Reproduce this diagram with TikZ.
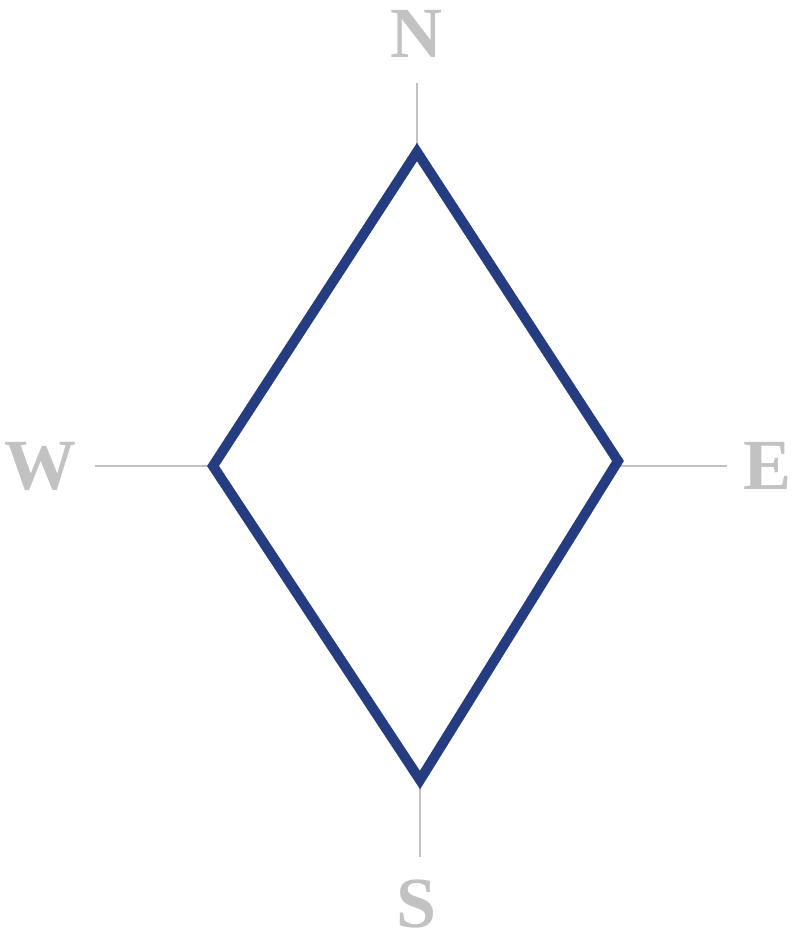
\documentclass[tikz,border=0pt]{standalone}
\usepackage{fontspec}
\setmainfont{Liberation Serif}
\definecolor{rosenavy}{RGB}{37,61,128}
\definecolor{rosegray}{RGB}{194,194,194}

\begin{document}
\begin{tikzpicture}[x=1pt,y=-1pt,
      lbl/.style={text=rosegray,font=\fontsize{72}{72}\selectfont\bfseries,inner sep=0pt},
      tick/.style={draw=rosegray,line width=2.2pt},
      rhomb/.style={draw=rosenavy,line width=10pt,line join=miter}]
    \useasboundingbox (0,0) rectangle (793,943);
    \node[lbl] (n) at (416,34)  {N};
    \node[lbl] (w) at (41,466)  {W};
    \node[lbl] (e) at (768,466) {E};
    \node[lbl] (s) at (417,904) {S};
    \coordinate (top) at (417,152);
    \coordinate (lft) at (213,466);
    \coordinate (rgt) at (618,461);
    \coordinate (bot) at (420,780);
    \coordinate (nend) at (417,83);
    \coordinate (wend) at (95,466);
    \coordinate (eend) at (727,466);
    \coordinate (send) at (420,857);
    \draw[tick] (nend) -- (top);
    \draw[tick] (wend) -- (lft);
    \draw[tick] (eend) -- (rgt |- eend);
    \draw[tick] (send) -- (bot);
    \draw[rhomb] (top) -- (rgt) -- (bot) -- (lft) -- cycle;
  \end{tikzpicture}
\end{document}
